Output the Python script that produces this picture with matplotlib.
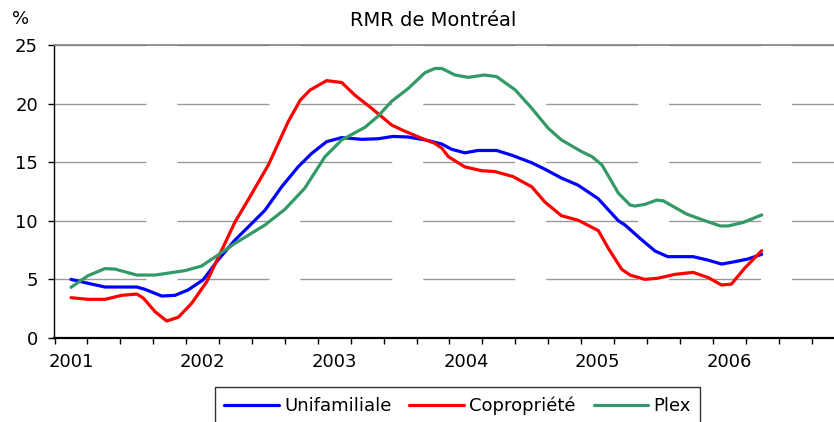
import matplotlib
matplotlib.use("Agg")
from matplotlib import pyplot as plt

# months since january 2001
mois_uni = [0, 1.55, 3.1, 6.0, 6.75, 8.27, 9.48, 10.67, 12.03, 13.4, 14.95, 15.86,
            17.68, 19.2, 20.7, 21.94, 23.3, 24.68, 26.5, 27.99, 29.35, 30.72, 32.27,
            33.18, 33.8, 34.7, 35.9, 37.1, 38.8, 40.17, 42.0, 43.2, 44.7, 46.2, 48.04,
            49.9, 50.5, 51.87, 53.24, 54.4, 56.7, 58.05, 59.3, 60.5, 61.7, 62.96]
unifamiliale = [5.0, 4.67, 4.35, 4.35, 4.15, 3.58, 3.64, 4.1, 4.95, 6.65, 8.36, 9.2,
                10.9, 12.9, 14.6, 15.75, 16.75, 17.1, 16.95, 17.0, 17.2, 17.15, 16.9,
                16.7, 16.55, 16.1, 15.8, 16.0, 16.0, 15.6, 14.95, 14.4, 13.65, 13.05, 11.9,
                10.0, 9.64, 8.5, 7.42, 6.94, 6.94, 6.65, 6.31, 6.51, 6.74, 7.14]

mois_copro = [0, 1.55, 3.1, 4.62, 6.0, 6.6, 7.66, 8.72, 9.78, 11.0, 12.37, 13.74,
              14.95, 16.32, 17.99, 19.8, 20.9, 21.8, 23.3, 24.68, 25.9, 27.4, 29.23,
              30.3, 31.97, 33.18, 33.8, 34.4, 35.9, 37.4, 38.65, 40.3, 42.0, 43.2, 44.7,
              46.25, 48.07, 48.98, 50.2, 50.96, 52.3, 53.5, 55.05, 56.7, 58.1, 59.3,
              60.2, 61.4, 62.96]
copropriete = [3.44, 3.3, 3.3, 3.64, 3.75, 3.4, 2.25, 1.45, 1.77, 2.96, 4.8, 7.5,
               9.9, 12.06, 14.76, 18.46, 20.3, 21.16, 21.96, 21.8, 20.7, 19.6, 18.17,
               17.7, 17.04, 16.6, 16.2, 15.47, 14.6, 14.28, 14.2, 13.77, 12.9, 11.6, 10.44,
               10.04, 9.16, 7.65, 5.86, 5.37, 5.0, 5.1, 5.43, 5.6, 5.15, 4.52,
               4.6, 5.95, 7.45]

mois_plex = [0, 1.55, 3.1, 4.0, 6.0, 7.66, 10.4, 11.9, 13.4, 14.95, 16.3, 17.68,
             19.5, 21.3, 23.15, 24.68, 26.8, 28.0, 29.23, 30.75, 32.27, 33.18, 33.8,
             35.0, 36.2, 37.7, 38.8, 40.5, 42.0, 43.5, 44.7, 46.55, 47.5, 48.4, 49.9,
             50.96, 51.4, 52.3, 53.4, 54.0, 56.1, 57.8, 59.2, 59.9, 61.3, 62.96]
plex = [4.32, 5.32, 5.92, 5.88, 5.37, 5.37, 5.75, 6.14, 7.08, 8.08, 8.85, 9.64,
        10.98, 12.77, 15.47, 16.9, 17.98, 18.94, 20.2, 21.3, 22.64, 23.0, 23.0,
        22.44, 22.24, 22.44, 22.3, 21.16, 19.6, 17.9, 16.9, 15.9, 15.47, 14.76, 12.35,
        11.35, 11.26, 11.4, 11.77, 11.7, 10.58, 10.0, 9.56, 9.56, 9.87, 10.5]

annees = ["2001", "2002", "2003", "2004", "2005", "2006"]
pos_annees = [0, 12, 24, 36, 48, 60]
y_ticks = [0, 5, 10, 15, 20, 25]

plt.rcParams["lines.scale_dashes"] = False
plt.rcParams["font.family"] = "DejaVu Sans"

fig = plt.figure(figsize=(8.34, 4.22), dpi=100)
ax = fig.add_axes([54 / 834, 1 - 338 / 422, 1 - 54 / 834, (338 - 45) / 422])

ax.plot(mois_uni, unifamiliale, color="#0000FF", lw=2.3, label="Unifamiliale",
        solid_joinstyle="round", solid_capstyle="round", zorder=3)
ax.plot(mois_copro, copropriete, color="#FF0000", lw=2.3, label="Copropriété",
        solid_joinstyle="round", solid_capstyle="round", zorder=3)
ax.plot(mois_plex, plex, color="#339966", lw=2.3, label="Plex",
        solid_joinstyle="round", solid_capstyle="round", zorder=3)

ax.set_xlim(-1.55, 69.55)
ax.set_ylim(0, 25)
ax.set_yticks(y_ticks)
ax.set_xticks(pos_annees)
ax.set_xticklabels(annees)
ax.set_xticks([-1.5 + 3 * k for k in range(24)], minor=True)
ax.tick_params(axis="x", which="major", length=0, pad=11, labelsize=13)
ax.tick_params(axis="x", which="minor", length=4, width=1, direction="out")
ax.tick_params(axis="y", length=4.5, width=1, direction="out", pad=7, labelsize=13)

ax.set_axisbelow(True)
ax.grid(axis="y", color="#999999", lw=1, linestyle=(0, (66.2, 22.3)))

ax.spines["right"].set_visible(False)
ax.spines["top"].set_color("#808080")
ax.spines["top"].set_linewidth(1.2)
ax.spines["left"].set_linewidth(1)
ax.spines["bottom"].set_linewidth(1.6)

fig.text(433 / 834, 1 - 20 / 422, "RMR de Montréal", ha="center", va="center", fontsize=14)
fig.text(21 / 834, 1 - 19 / 422, "%", ha="center", va="center", fontsize=13)

leg = fig.legend(loc="upper center", bbox_to_anchor=(457.5 / 834, 1 - 387 / 422),
                 ncol=3, fontsize=13, frameon=True, fancybox=False, edgecolor="black",
                 handlelength=3.0, handletextpad=0.3, columnspacing=1.0, borderpad=0.55,
                 borderaxespad=0)
leg.get_frame().set_linewidth(1)

fig.savefig("out.png", dpi=100)
